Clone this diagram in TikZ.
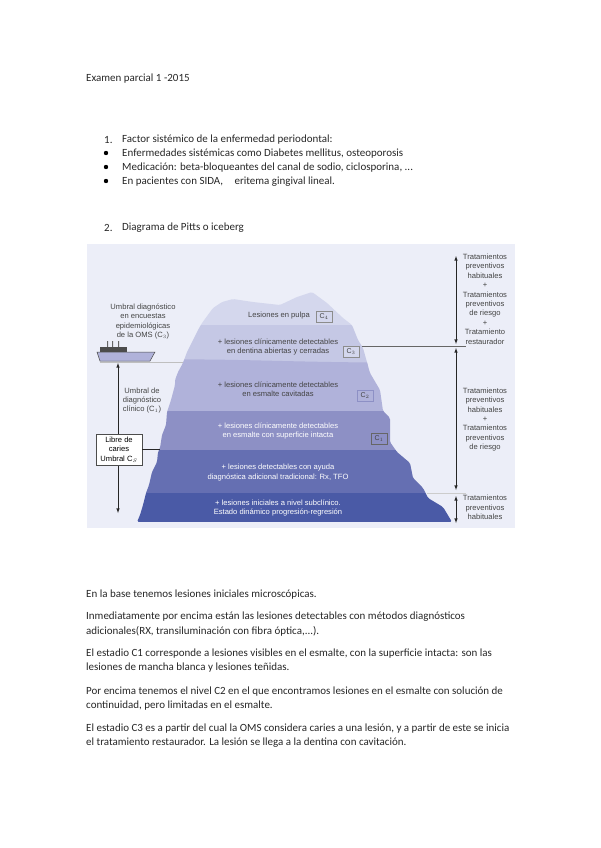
\documentclass[tikz,border=0pt]{standalone}
\usepackage{fontspec}
\setmainfont{Carlito}
\newfontfamily\rotulo{Liberation Sans}
\usepackage{tikz}
\definecolor{fondo}{HTML}{ECEEF8}
\definecolor{capa1}{HTML}{D4D7ED}
\definecolor{capa2}{HTML}{C5C8E5}
\definecolor{capa3}{HTML}{B0B2DA}
\definecolor{capa4}{HTML}{8D90C5}
\definecolor{capa5}{HTML}{656FB2}
\definecolor{capa6}{HTML}{4A5AA6}
\definecolor{gristexto}{HTML}{444444}
\tikzset{
    linea/.style = {anchor = west, inner sep = 0pt, yshift = -1pt, font = \fontsize{10.98}{12}\selectfont, text = black!85},
    punto/.style = {circle, fill = black, inner sep = 0pt, minimum size = 4.4pt},
    rotulo/.style = {align = center, inner sep = 0pt, font = \rotulo\fontsize{7.6}{9.4}\selectfont, text = gristexto},
    claro/.style = {rotulo, text = white},
    nivel/.style = {draw = black!45, line width = 0.4pt, minimum width = 16pt, minimum height = 11pt, inner sep = 0pt, font = \rotulo\fontsize{7}{8}\selectfont, text = gristexto},
    flecha/.style = {line width = 0.6pt, black!85, latex-latex}
}
\begin{document}
\begin{tikzpicture}[x = 1pt, y = -1pt]
    \useasboundingbox (0,0) rectangle (600,848);

    % texto superior
    \node [linea] (examen) at (86,78) {Examen parcial 1 -2015};
    \node [linea] (num1) at (104,139) {1.};
    \node [linea] (factor) at (122,139) {Factor sistémico de la enfermedad periodontal:};
    \node [punto] (p1) at (106,153) {};
    \node [linea] (enf) at (122,153) {Enfermedades sistémicas como Diabetes mellitus, osteoporosis};
    \node [punto] (p2) at (106,167) {};
    \node [linea] (med) at (122,167) {Medicación: beta-bloqueantes del canal de sodio, ciclosporina, ...};
    \node [punto] (p3) at (106,181) {};
    \node [linea] (sida) at (122,181) {En pacientes con SIDA,\hspace{9pt} eritema gingival lineal.};
    \node [linea] (num2) at (104,227) {2.};
    \node [linea] (pitts) at (122,227) {Diagrama de Pitts o iceberg};

    % fondo e iceberg
    \fill [fondo] (87,244) rectangle (515,528);
    \begin{scope}
        \clip [rounded corners = 1.5pt] (137,522) -- (140,515) -- (143,505) -- (146,493) -- (149,485) -- (152,472)
            -- (157,462) -- (158,452) -- (160,448) -- (162,435) -- (166,425) -- (167,412) -- (171,400) -- (175,385)
            -- (175,380) -- (178,372) -- (183,363) -- (187,352) -- (193,340) -- (198,330) -- (202,323)
            -- (213,308) -- (222,302) -- (233,299) -- (253,302) -- (280,305)
            -- (297,297) -- (312,292) -- (327,303) -- (343,318) -- (352,325) -- (358,340) -- (363,348)
            -- (370,373) -- (380,390) -- (383,411) -- (390,418) -- (390,442) -- (397,452) -- (410,463)
            -- (413,478) -- (423,488) -- (428,498) -- (443,507) -- (452,522) -- cycle;
        \fill [capa1] (130,285) rectangle (460,325);
        \fill [capa2] (130,325) rectangle (460,365);
        \fill [capa3] (130,362) .. controls (200,355) and (300,365) .. (460,362) -- (460,411) -- (130,411) -- cycle;
        \fill [capa4] (130,411) rectangle (460,450);
        \fill [capa5] (130,450) rectangle (460,493);
        \fill [capa6] (130,493) rectangle (460,522);
    \end{scope}

    % rotulos de las capas
    \node [rotulo] (pulpa) at (279,316) {Lesiones en pulpa};
    \node [nivel] (c4) at (324,317) {C$_4$};
    \node [rotulo] (dentina) at (278,347) {+ lesiones clínicamente detectables\\en dentina abiertas y cerradas};
    \node [nivel, fill = capa1] (c3) at (351,352) {C$_3$};
    \node [rotulo] (cavitadas) at (278,389) {+ lesiones clínicamente detectables\\en esmalte cavitadas};
    \node [nivel, draw = capa4] (c2) at (365,396) {C$_2$};
    \node [claro] (intacta) at (278,431) {+ lesiones clínicamente detectables\\en esmalte con superficie intacta};
    \node [nivel, draw = black!60] (c1) at (379,439) {C$_1$};
    \node [claro] (ayuda) at (278,472.5) {+ lesiones detectables con ayuda\\diagnóstica adicional tradicional: Rx, TFO};
    \node [claro] (inicial) at (278,508) {+ lesiones iniciales a nivel subclínico.\\Estado dinámico progresión-regresión};

    % barco
    \fill [black!60] (107,341) rectangle (108,347) (112,341) rectangle (113,347) (118,341) rectangle (119,347);
    \fill [black!70] (100,347) rectangle (127,352);
    \fill [capa3, draw = black!70, line width = 0.5pt] (97,352) -- (155,352) -- (150,361) -- (100,361) -- cycle;

    % umbrales a la izquierda
    \node [rotulo] (umbral3) at (143,321.5) {Umbral diagnóstico\\en encuestas\\epidemiológicas\\de la OMS (C$_3$)};
    \node [rotulo] (umbral1) at (142,400.5) {Umbral de\\diagnóstico\\clínico (C$_1$)};
    \coordinate (barco) at (118,363);
    \coordinate (fondoizq) at (118,513);
    \coordinate (proa) at (100,362);
    \coordinate (borde3) at (183,362);
    \coordinate (borde0) at (160,449.5);
    \draw [black!25, line width = 0.8pt] (proa) -- (borde3);
    \draw [flecha] (barco) -- (fondoizq);
    \node [draw = black!70, fill = white, line width = 0.6pt, minimum width = 46pt, minimum height = 31pt, align = center, inner sep = 0pt, font = \rotulo\fontsize{7.6}{9.4}\selectfont] (libre) at (119,449.5) {Libre de\\caries\\Umbral C$_S$};
    \draw [line width = 0.6pt, black!85] (libre) -- (borde0);

    % tratamientos a la derecha
    \node [rotulo] (trat1) at (485,299) {Tratamientos\\preventivos\\habituales\\+\\Tratamientos\\preventivos\\de riesgo\\+\\Tratamiento\\restaurador};
    \node [rotulo] (trat2) at (485,419.5) {Tratamientos\\preventivos\\habituales\\+\\Tratamientos\\preventivos\\de riesgo};
    \node [rotulo] (trat3) at (485,507.5) {Tratamientos\\preventivos\\habituales};
    \coordinate (d1) at (456,256);
    \coordinate (d2) at (456,344);
    \coordinate (d3) at (456,348);
    \coordinate (d4) at (456,490);
    \coordinate (d5) at (456,496);
    \coordinate (d6) at (456,523);
    \coordinate (c3izq) at (362,346);
    \coordinate (c3der) at (466,346);
    \coordinate (c0izq) at (427,493);
    \coordinate (c0der) at (466,493);
    \draw [black!60, line width = 0.9pt] (c3izq) -- (c3der);
    \draw [black!20, line width = 0.8pt] (c0izq) -- (c0der);
    \draw [flecha] (d1) -- (d2);
    \draw [flecha] (d3) -- (d4);
    \draw [flecha] (d5) -- (d6);

    % texto inferior
    \node [linea] (t1) at (86,594) {En la base tenemos lesiones iniciales microscópicas.};
    \node [linea] (t2) at (86,616) {Inmediatamente por encima están las lesiones detectables con métodos diagnósticos};
    \node [linea] (t3) at (86,630) {adicionales(RX, transiluminación con fibra óptica,...).};
    \node [linea] (t4) at (86,653) {El estadio C1 corresponde a lesiones visibles en el esmalte, con la superficie intacta: son las};
    \node [linea] (t5) at (86,667) {lesiones de mancha blanca y lesiones teñidas.};
    \node [linea] (t6) at (86,691) {Por encima tenemos el nivel C2 en el que encontramos lesiones en el esmalte con solución de};
    \node [linea] (t7) at (86,705) {continuidad, pero limitadas en el esmalte.};
    \node [linea] (t8) at (86,728) {El estadio C3 es a partir del cual la OMS considera caries a una lesión, y a partir de este se inicia};
    \node [linea] (t9) at (86,742) {el tratamiento restaurador. La lesión se llega a la dentina con cavitación.};
\end{tikzpicture}
\end{document}
